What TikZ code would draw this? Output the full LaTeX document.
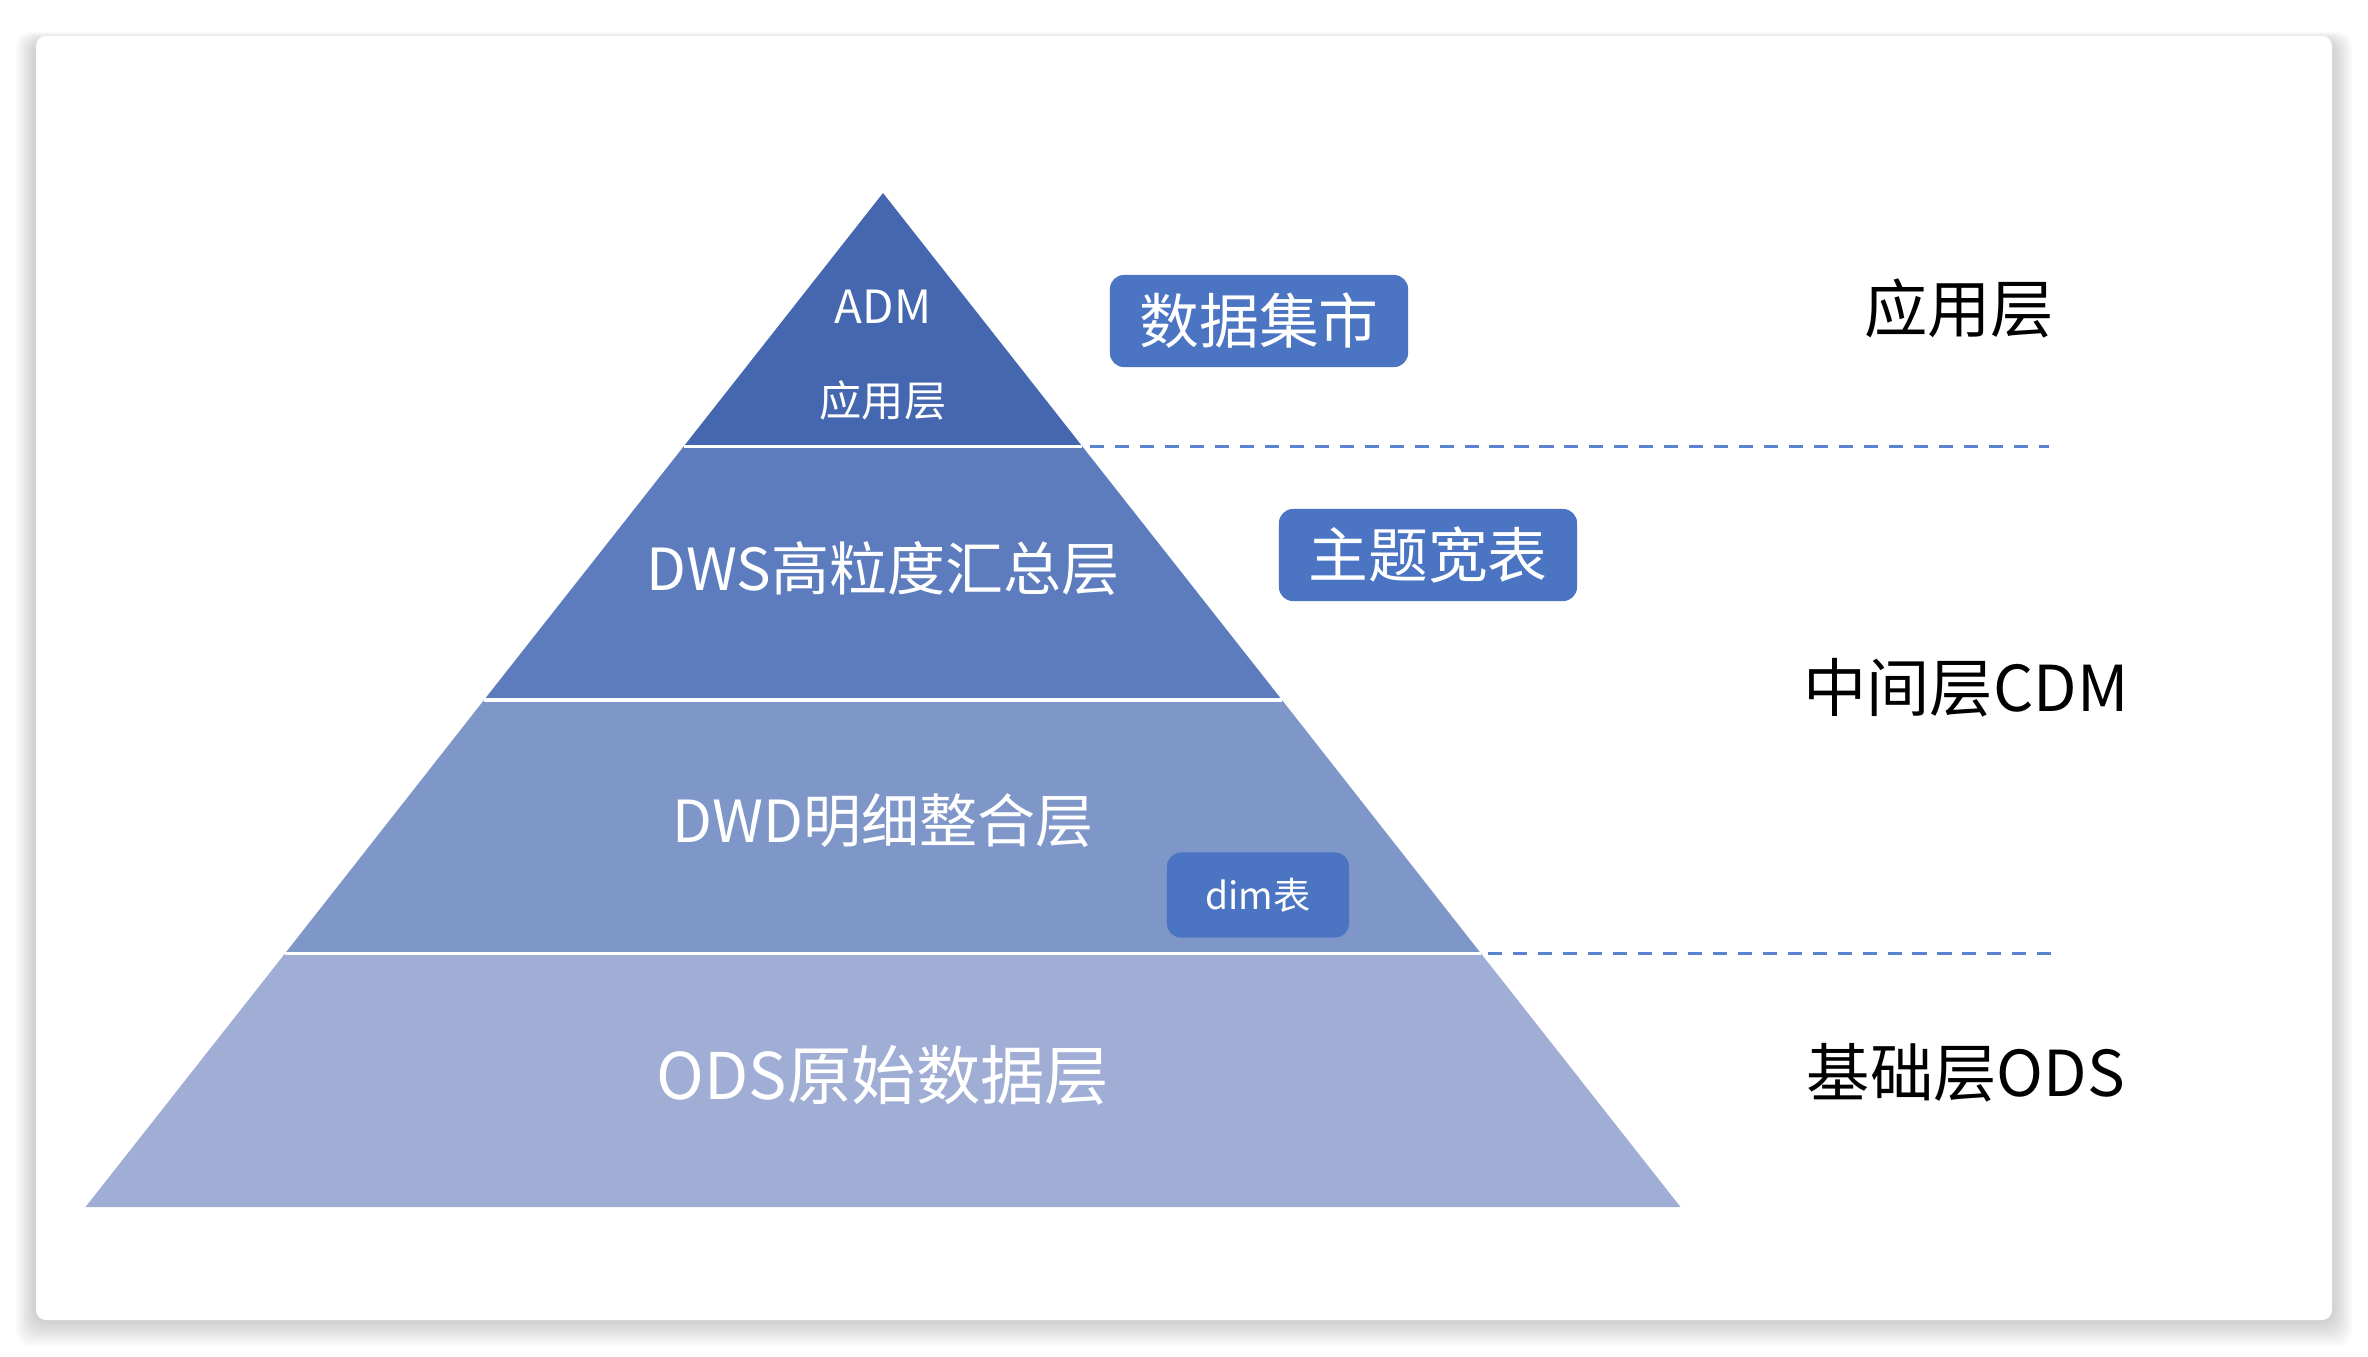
\documentclass[tikz,border=0pt]{standalone}
\usepackage{fontspec}
\setmainfont{Noto Sans CJK SC}
\definecolor{layA}{RGB}{68,103,176}
\definecolor{layB}{RGB}{93,124,189}
\definecolor{layC}{RGB}{127,150,200}
\definecolor{layD}{RGB}{160,174,214}
\definecolor{tagblue}{RGB}{75,116,194}
\definecolor{cutblue}{RGB}{92,131,208}

\begin{document}
\begin{tikzpicture}[x=0.01cm,y=-0.01cm,
    layer/.style={text=white,font=\fontsize{16.5pt}{18pt}\selectfont},
    small/.style={text=white,font=\fontsize{12pt}{14pt}\selectfont},
    tag/.style={fill=tagblue,text=white,rounded corners=0.14cm,minimum width=2.98cm,minimum height=0.92cm,inner sep=0pt,font=\fontsize{17pt}{19pt}\selectfont},
    side/.style={text=black,font=\fontsize{18pt}{20pt}\selectfont},
    cut/.style={draw=cutblue,line width=0.9pt,dash pattern=on 4pt off 3.1pt}]
    \useasboundingbox (0,0) rectangle (2368,1356);
    % card with shadow
    \foreach \i in {1,...,10}
        \fill[black,opacity=0.018,rounded corners=0.15cm] (36-\i*2,36-\i+6) rectangle (2332+\i*2,1320+\i*2.6);
    \fill[white,rounded corners=0.1cm] (36,36) rectangle (2332,1320);
    %
    \fill[layD] (85.5,1207) -- (1680.5,1207) -- (1481,953.5) -- (285,953.5) -- cycle;
    \fill[layC] (285,953.5) -- (1481,953.5) -- (1282,700) -- (484,700) -- cycle;
    \fill[layB] (484,700) -- (1282,700) -- (1082.4,446.5) -- (683.6,446.5) -- cycle;
    \fill[layA] (683.6,446.5) -- (1082.4,446.5) -- (883,193) -- cycle;
    \draw[white,line width=1pt] (683.6,446.5) -- (1082.4,446.5);
    \draw[white,line width=1pt] (484,700) -- (1282,700);
    \draw[white,line width=1pt] (285,953.5) -- (1481,953.5);
    %
    \node[small,font=\fontsize{13pt}{15pt}\selectfont] (adm) at (883,307) {ADM};
    \node[small] (admcn) at (883,400) {应用层};
    \node[layer] (dws) at (883,569) {DWS高粒度汇总层};
    \node[layer] (dwd) at (883,821) {DWD明细整合层};
    \node[layer,font=\fontsize{18.3pt}{20pt}\selectfont] (ods) at (883,1075) {ODS原始数据层};
    %
    \node[tag] (mart) at (1259,321) {数据集市};
    \node[tag] (wide) at (1428,555) {主题宽表};
    \node[tag,minimum width=1.82cm,minimum height=0.85cm,font=\fontsize{10.6pt}{12pt}\selectfont] (dim) at (1258,895) {dim表};
    %
    \node[side] (app) at (1959,308) {应用层};
    \node[side] (cdm) at (1966,688) {中间层CDM};
    \node[side] (base) at (1966,1073) {基础层ODS};
    %
    \coordinate (cutA) at (1090,446.5);
    \coordinate (endA) at (2049,446.5);
    \coordinate (cutB) at (1488,953.5);
    \coordinate (endB) at (2051,953.5);
    \draw[cut] (cutA) -- (endA);
    \draw[cut] (cutB) -- (endB);
\end{tikzpicture}
\end{document}
